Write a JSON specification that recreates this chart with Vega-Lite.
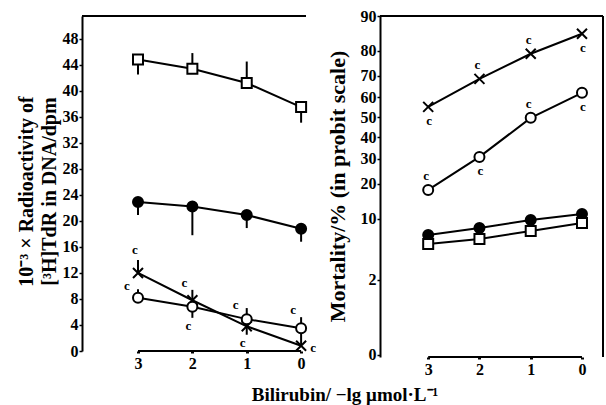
{
  "$schema": "https://vega.github.io/schema/vega-lite/v6.json",
  "padding": {"left": 16, "top": 8, "right": 0, "bottom": 0},
  "bounds": "flush",
  "spacing": 74,
  "title": {"text": "Bilirubin/ −lg μmol·L⁻¹", "orient": "bottom", "anchor": "middle", "dx": 35, "offset": 9, "font": "Liberation Serif", "fontSize": 19, "fontWeight": "bold", "color": "black"},
  "datasets": {
    "left": [
      {"series": "sq", "x": 3, "v": 44.8, "err": 42.5, "cpos": "none"},
      {"series": "sq", "x": 2, "v": 43.4, "err": 45.8, "cpos": "none"},
      {"series": "sq", "x": 1, "v": 41.2, "err": 44.5, "cpos": "none"},
      {"series": "sq", "x": 0, "v": 37.5, "err": 35.1, "cpos": "none"},
      {"series": "fc", "x": 3, "v": 22.9, "err": 20.9, "cpos": "none"},
      {"series": "fc", "x": 2, "v": 22.2, "err": 17.8, "cpos": "none"},
      {"series": "fc", "x": 1, "v": 20.9, "err": 18.9, "cpos": "none"},
      {"series": "fc", "x": 0, "v": 18.8, "err": 16.8, "cpos": "none"},
      {"series": "st", "x": 3, "v": 12.0, "err": 14.0, "cpos": "above"},
      {"series": "st", "x": 2, "v": 7.8, "err": 9.4, "cpos": "upleft"},
      {"series": "st", "x": 1, "v": 3.8, "err": 2.5, "cpos": "below"},
      {"series": "st", "x": 0, "v": 0.8, "err": 2.8, "cpos": "right"},
      {"series": "oc", "x": 3, "v": 8.2, "err": 9.5, "cpos": "left"},
      {"series": "oc", "x": 2, "v": 6.8, "err": 5.1, "cpos": "below"},
      {"series": "oc", "x": 1, "v": 4.9, "err": 6.6, "cpos": "left"},
      {"series": "oc", "x": 0, "v": 3.5, "err": 5.2, "cpos": "upleft"}
    ],
    "right": [
      {"series": "st", "x": 3, "mortality": 55.3, "probit": 0.133, "cpos": "below"},
      {"series": "st", "x": 2, "mortality": 68.7, "probit": 0.487, "cpos": "above"},
      {"series": "st", "x": 1, "mortality": 78.9, "probit": 0.804, "cpos": "above"},
      {"series": "st", "x": 0, "mortality": 85.5, "probit": 1.057, "cpos": "below"},
      {"series": "oc", "x": 3, "mortality": 17.9, "probit": -0.918, "cpos": "above"},
      {"series": "oc", "x": 2, "mortality": 30.9, "probit": -0.5, "cpos": "below"},
      {"series": "oc", "x": 1, "mortality": 49.8, "probit": -0.006, "cpos": "above"},
      {"series": "oc", "x": 0, "mortality": 62.2, "probit": 0.31, "cpos": "below"},
      {"series": "fc", "x": 3, "mortality": 6.9, "probit": -1.487, "cpos": "none"},
      {"series": "fc", "x": 2, "mortality": 8.1, "probit": -1.399, "cpos": "none"},
      {"series": "fc", "x": 1, "mortality": 9.7, "probit": -1.297, "cpos": "none"},
      {"series": "fc", "x": 0, "mortality": 11.1, "probit": -1.222, "cpos": "none"},
      {"series": "sq", "x": 3, "mortality": 5.5, "probit": -1.601, "cpos": "none"},
      {"series": "sq", "x": 2, "mortality": 6.2, "probit": -1.538, "cpos": "none"},
      {"series": "sq", "x": 1, "mortality": 7.5, "probit": -1.437, "cpos": "none"},
      {"series": "sq", "x": 0, "mortality": 9.1, "probit": -1.335, "cpos": "none"}
    ]
  },
  "hconcat": [
    {
      "width": 224,
      "height": 335,
      "data": {"name": "left"},
      "layer": [
        {
          "mark": {"type": "line", "color": "black", "strokeWidth": 2},
          "encoding": {
            "x": {"field": "x", "type": "quantitative", "scale": {"domain": [-0.09, 4.03], "reverse": true, "nice": false, "zero": false},
                  "axis": {"values": [3, 2, 1, 0], "tickCount": 20, "format": "d", "domain": false, "tickSize": 2, "tickWidth": 3, "labelPadding": 2, "title": null, "labelFlush": false, "labelOverlap": false}},
            "y": {"field": "v", "type": "quantitative", "scale": {"domain": [0, 51.5], "nice": false},
                  "axis": {"values": [0, 4, 8, 12, 16, 20, 24, 28, 32, 36, 40, 44, 48], "tickCount": 20, "format": "d", "tickSize": 3, "tickWidth": 1.5, "labelPadding": 1, "labelOverlap": false,
                           "title": ["10⁻³ × Radioactivity of", "[³H]TdR in DNA/dpm"], "titleX": -46, "titleY": 175, "titleBaseline": "bottom", "titleFontSize": 20, "titleLineHeight": 23, "titleFontWeight": "bold", "labelFlush": false}},
            "detail": {"field": "series"},
            "order": {"field": "x"}
          }
        },
        {
          "data": {"values": [{}]},
          "mark": {"type": "rule", "color": "black", "strokeWidth": 2},
          "encoding": {"x": {"datum": 4.03, "type": "quantitative"}, "x2": {"datum": -0.09}, "y": {"datum": 51.5, "type": "quantitative"}}
        },
        {
          "data": {"values": [{}]},
          "mark": {"type": "rule", "color": "black", "strokeWidth": 2},
          "encoding": {"x": {"datum": 3, "type": "quantitative"}, "x2": {"datum": 0}, "y": {"datum": 0, "type": "quantitative"}}
        },
        {
          "mark": {"type": "rule", "color": "black", "strokeWidth": 2},
          "encoding": {"x": {"field": "x", "type": "quantitative"}, "y": {"field": "v", "type": "quantitative"}, "y2": {"field": "err"}}
        },
        {
          "mark": {"type": "point", "stroke": "black", "strokeWidth": 2, "opacity": 1, "fillOpacity": 1, "size": 100},
          "encoding": {
            "x": {"field": "x", "type": "quantitative"},
            "y": {"field": "v", "type": "quantitative"},
            "shape": {"field": "series", "type": "nominal", "scale": {"domain": ["sq", "fc", "st", "oc"], "range": ["square", "circle", "M-1,-1L1,1M-1,1L1,-1", "circle"]}, "legend": null},
            "fill": {"field": "series", "type": "nominal", "scale": {"domain": ["sq", "fc", "st", "oc"], "range": ["white", "black", "black", "white"]}, "legend": null}
          }
        },
        {
          "transform": [{"filter": "datum.cpos == 'above'"}],
          "mark": {"type": "text", "text": "c", "dx": -3, "dy": -10, "font": "Liberation Serif", "fontSize": 13, "fontWeight": "bold", "baseline": "middle", "align": "center"},
          "encoding": {"x": {"field": "x", "type": "quantitative"}, "y": {"field": "err", "type": "quantitative"}}
        },
        {
          "transform": [{"filter": "datum.cpos == 'upleft'"}],
          "mark": {"type": "text", "text": "c", "dx": -8, "dy": -7, "font": "Liberation Serif", "fontSize": 13, "fontWeight": "bold", "baseline": "middle", "align": "center"},
          "encoding": {"x": {"field": "x", "type": "quantitative"}, "y": {"field": "err", "type": "quantitative"}}
        },
        {
          "transform": [{"filter": "datum.cpos == 'left'"}],
          "mark": {"type": "text", "text": "c", "dx": -11, "dy": -3, "font": "Liberation Serif", "fontSize": 13, "fontWeight": "bold", "baseline": "middle", "align": "center"},
          "encoding": {"x": {"field": "x", "type": "quantitative"}, "y": {"field": "err", "type": "quantitative"}}
        },
        {
          "transform": [{"filter": "datum.cpos == 'below'"}],
          "mark": {"type": "text", "text": "c", "dx": -4, "dy": 8, "font": "Liberation Serif", "fontSize": 13, "fontWeight": "bold", "baseline": "middle", "align": "center"},
          "encoding": {"x": {"field": "x", "type": "quantitative"}, "y": {"field": "err", "type": "quantitative"}}
        },
        {
          "transform": [{"filter": "datum.cpos == 'right'"}],
          "mark": {"type": "text", "text": "c", "dx": 12, "dy": 2, "font": "Liberation Serif", "fontSize": 13, "fontWeight": "bold", "baseline": "middle", "align": "center"},
          "encoding": {"x": {"field": "x", "type": "quantitative"}, "y": {"field": "v", "type": "quantitative"}}
        }
      ]
    },
    {
      "width": 223,
      "height": 341,
      "data": {"name": "right"},
      "layer": [
        {
          "mark": {"type": "line", "color": "black", "strokeWidth": 2},
          "encoding": {
            "x": {"field": "x", "type": "quantitative", "scale": {"domain": [-0.41, 3.94], "reverse": true, "nice": false, "zero": false},
                  "axis": {"values": [3, 2, 1, 0], "tickCount": 20, "format": "d", "domain": false, "tickSize": 2, "tickWidth": 3, "labelPadding": 2, "title": null, "labelFlush": false, "labelOverlap": false}},
            "y": {"field": "probit", "type": "quantitative", "scale": {"domain": [-3.03, 1.2816], "nice": false, "zero": false},
                  "axis": {"values": [1.2816, 0.8416, 0.5244, 0.2533, 0, -0.2533, -0.5244, -0.8416, -1.2816, -2.0537, -3.0], "tickCount": 20,
                           "labelExpr": "format(cumulativeNormal(datum.value) * 100, '.0f')", "labelOverlap": false,
                           "tickSize": 3, "tickWidth": 1.5, "labelPadding": 1,
                           "title": "Mortality/% (in probit scale)", "titleX": -31, "titleY": 170, "titleBaseline": "bottom", "titleFontSize": 22, "labelFlush": false}},
            "detail": {"field": "series"},
            "order": {"field": "x"}
          }
        },
        {
          "data": {"values": [{}]},
          "mark": {"type": "rule", "color": "black", "strokeWidth": 2},
          "encoding": {"x": {"datum": 3.94, "type": "quantitative"}, "x2": {"datum": -0.41}, "y": {"datum": 1.2816, "type": "quantitative"}}
        },
        {
          "data": {"values": [{}]},
          "mark": {"type": "rule", "color": "black", "strokeWidth": 2},
          "encoding": {"x": {"datum": -0.41, "type": "quantitative"}, "y": {"datum": -3.03, "type": "quantitative"}, "y2": {"datum": 1.2816}}
        },
        {
          "data": {"values": [{}]},
          "mark": {"type": "rule", "color": "black", "strokeWidth": 2},
          "encoding": {"x": {"datum": 3, "type": "quantitative"}, "x2": {"datum": 0}, "y": {"datum": -3.03, "type": "quantitative"}}
        },
        {
          "mark": {"type": "point", "stroke": "black", "strokeWidth": 2, "opacity": 1, "fillOpacity": 1, "size": 100},
          "encoding": {
            "x": {"field": "x", "type": "quantitative"},
            "y": {"field": "probit", "type": "quantitative"},
            "shape": {"field": "series", "type": "nominal", "scale": {"domain": ["sq", "fc", "st", "oc"], "range": ["square", "circle", "M-1,-1L1,1M-1,1L1,-1", "circle"]}, "legend": null},
            "fill": {"field": "series", "type": "nominal", "scale": {"domain": ["sq", "fc", "st", "oc"], "range": ["white", "black", "black", "white"]}, "legend": null}
          }
        },
        {
          "transform": [{"filter": "datum.cpos == 'above'"}],
          "mark": {"type": "text", "text": "c", "dx": -2, "dy": -14, "font": "Liberation Serif", "fontSize": 13, "fontWeight": "bold", "baseline": "middle", "align": "center"},
          "encoding": {"x": {"field": "x", "type": "quantitative"}, "y": {"field": "probit", "type": "quantitative"}}
        },
        {
          "transform": [{"filter": "datum.cpos == 'below'"}],
          "mark": {"type": "text", "text": "c", "dx": 1, "dy": 14, "font": "Liberation Serif", "fontSize": 13, "fontWeight": "bold", "baseline": "middle", "align": "center"},
          "encoding": {"x": {"field": "x", "type": "quantitative"}, "y": {"field": "probit", "type": "quantitative"}}
        }
      ]
    }
  ],
  "config": {
    "view": {"stroke": null},
    "font": "Liberation Serif",
    "axis": {"grid": false, "domainColor": "black", "domainWidth": 2, "tickColor": "black", "labelColor": "black", "titleColor": "black", "labelOverlap": false,
             "labelFont": "Liberation Serif", "titleFont": "Liberation Serif", "labelFontSize": 16, "labelFontWeight": "bold", "titleFontWeight": "bold"}
  }
}
